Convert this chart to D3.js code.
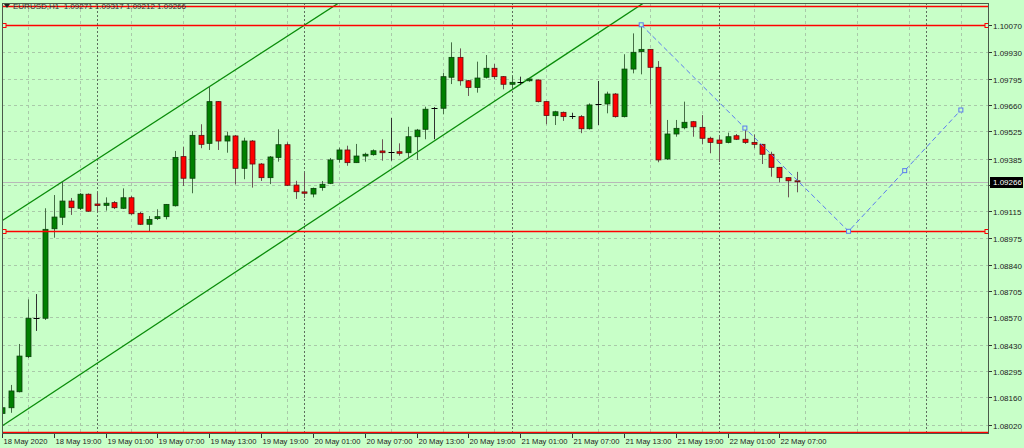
<!DOCTYPE html>
<html><head><meta charset="utf-8">
<script src="https://cdn.jsdelivr.net/npm/d3@7"></script>
<style>html,body{margin:0;padding:0;background:#C8FFC8;}svg{display:block}</style>
</head><body><svg id="c" width="1024" height="448"></svg>
<script>
// ---- data (EURUSD H1, bar 0 = 18 May 2020 13:00) ----
const symbolTitle = "EURUSD,H1  1.09271 1.09317 1.09212 1.09266";
const opens = [1.08078,1.08107,1.08189,1.08369,1.08567,1.08566,1.09025,1.09084,1.09167,1.09130,
1.09202,1.09152,1.09145,1.09159,1.09130,1.09184,1.09104,1.09048,1.09077,1.09087,
1.09143,1.09395,1.09284,1.09504,1.09463,1.09677,1.09475,1.09501,1.09335,1.09475,
1.09357,1.09287,1.09391,1.09456,1.09249,1.09214,1.09203,1.09236,1.09258,1.09381,
1.09429,1.09364,1.09398,1.09405,1.09424,1.09418,1.09420,1.09415,1.09497,1.09535,
1.09642,1.09643,1.09802,1.09904,1.09784,1.09750,1.09802,1.09848,1.09805,1.09766,
1.09779,1.09784,1.09788,1.09677,1.09605,1.09622,1.09602,1.09600,1.09538,1.09665,
1.09665,1.09716,1.09600,1.09844,1.09933,1.09945,1.09853,1.09383,1.09511,1.09543,
1.09574,1.09545,1.09489,1.09480,1.09468,1.09502,1.09484,1.09468,1.09458,1.09407,
1.09340,1.09287,1.09271];
const highs = [1.08162,1.08224,1.08434,1.08663,1.08690,1.09130,1.09198,1.09266,1.09183,1.09208,
1.09206,1.09210,1.09186,1.09167,1.09232,1.09193,1.09111,1.09090,1.09125,1.09152,
1.09424,1.09446,1.09526,1.09561,1.09754,1.09680,1.09523,1.09506,1.09492,1.09480,
1.09362,1.09398,1.09535,1.09468,1.09271,1.09313,1.09236,1.09270,1.09388,1.09441,
1.09451,1.09460,1.09415,1.09432,1.09484,1.09593,1.09463,1.09548,1.09537,1.09651,
1.09649,1.09825,1.09981,1.09950,1.09788,1.09882,1.09916,1.09870,1.09808,1.09808,
1.09805,1.09797,1.09790,1.09680,1.09630,1.09626,1.09620,1.09608,1.09668,1.09783,
1.09728,1.09721,1.09920,1.10027,1.10065,1.09947,1.09885,1.09583,1.09583,1.09677,
1.09578,1.09608,1.09497,1.09506,1.09518,1.09511,1.09535,1.09509,1.09460,1.09420,
1.09342,1.09290,1.09317];
const lows = [1.08018,1.08081,1.08186,1.08362,1.08501,1.08557,1.08979,1.09044,1.09096,1.09121,
1.09111,1.09112,1.09118,1.09126,1.09126,1.09096,1.09044,1.09013,1.09070,1.09073,
1.09139,1.09244,1.09207,1.09438,1.09429,1.09429,1.09415,1.09253,1.09279,1.09236,
1.09270,1.09254,1.09369,1.09244,1.09178,1.09183,1.09186,1.09220,1.09254,1.09364,
1.09348,1.09362,1.09369,1.09400,1.09374,1.09374,1.09400,1.09386,1.09378,1.09484,
1.09484,1.09612,1.09767,1.09759,1.09706,1.09723,1.09796,1.09793,1.09740,1.09740,
1.09762,1.09779,1.09673,1.09561,1.09557,1.09578,1.09588,1.09515,1.09534,1.09557,
1.09617,1.09595,1.09596,1.09822,1.09817,1.09663,1.09366,1.09378,1.09497,1.09535,
1.09497,1.09458,1.09412,1.09367,1.09463,1.09480,1.09460,1.09438,1.09357,1.09292,
1.09263,1.09186,1.09212];
const closes = [1.08107,1.08193,1.08372,1.08566,1.08567,1.09022,1.09085,1.09167,1.09133,1.09202,
1.09115,1.09144,1.09156,1.09133,1.09184,1.09102,1.09048,1.09073,1.09087,1.09150,
1.09391,1.09284,1.09504,1.09458,1.09677,1.09475,1.09501,1.09335,1.09475,1.09357,
1.09287,1.09393,1.09456,1.09248,1.09215,1.09207,1.09232,1.09253,1.09378,1.09429,
1.09364,1.09398,1.09407,1.09425,1.09415,1.09418,1.09412,1.09497,1.09531,1.09638,
1.09642,1.09805,1.09904,1.09784,1.09750,1.09798,1.09848,1.09805,1.09766,1.09776,
1.09779,1.09793,1.09677,1.09606,1.09625,1.09600,1.09602,1.09538,1.09660,1.09665,
1.09716,1.09600,1.09844,1.09930,1.09945,1.09853,1.09378,1.09511,1.09540,1.09571,
1.09548,1.09489,1.09468,1.09463,1.09497,1.09484,1.09468,1.09458,1.09407,1.09340,
1.09287,1.09271,1.09266];
// tick prices; the 1.09250 label is hidden under the last-price tag in the original
const priceTicks = ["1.10070","1.09930","1.09795","1.09660","1.09525","1.09385","1.09250","1.09115",
"1.08975","1.08840","1.08705","1.08570","1.08430","1.08295","1.08160","1.08020"];
const hiddenTickLabels = ["1.09250"];
const timeLabels = ["18 May 2020","18 May 19:00","19 May 01:00","19 May 07:00","19 May 13:00","19 May 19:00",
"20 May 01:00","20 May 07:00","20 May 13:00","20 May 19:00","21 May 01:00","21 May 07:00",
"21 May 13:00","21 May 19:00","22 May 01:00","22 May 07:00"];
const timeLabelBars = [0,6,12,18,24,30,36,42,48,54,60,66,72,78,84,90];
const daySeparatorBars = [11,35,59,83,107];
const hLinePrices = [1.10167,1.10071,1.09012,1.07985];
const hLineMarked = [false,true,true,false];
const channelUpper = [[0,1.09066],[40,1.10212]];   // [bar, price]
const channelLower = [[0,1.08013],[80,1.10350]];
const zigzag = [[74,1.10071],[98,1.09012],[111,1.09634]];
const lastPrice = 1.09266;

// ---- layout ----
const W=1024,H=448, L=2, R=989, T=3, B=434;
const svg=d3.select("#c");
const x=d3.scaleLinear().domain([0,107]).range([1.9,926.3]);
const y=d3.scaleLinear().domain([1.08020,1.10070]).range([424.7,25]);
const bg="#C8FFC8";
svg.append("rect").attr("width",W).attr("height",H).attr("fill",bg);
svg.append("defs").append("clipPath").attr("id","plot").append("rect")
  .attr("x",L).attr("y",T).attr("width",R-L).attr("height",B-T);
const plot=svg.append("g").attr("clip-path","url(#plot)");

// grid
const gridCol="#A9C9A9";
priceTicks.forEach(t=>{
  const yy=Math.round(y(+t))+0.5;
  plot.append("line").attr("x1",L).attr("x2",R).attr("y1",yy).attr("y2",yy)
    .attr("stroke",gridCol).attr("stroke-dasharray","3,3");
});
for(let b=3;b<=115;b+=6){
  const xx=Math.round(x(b))+0.5;
  plot.append("line").attr("x1",xx).attr("x2",xx).attr("y1",T).attr("y2",B)
    .attr("stroke",gridCol).attr("stroke-dasharray","3,3");
}
daySeparatorBars.forEach(b=>{
  const xx=Math.round(x(b))+0.5;
  plot.append("line").attr("x1",xx).attr("x2",xx).attr("y1",T).attr("y2",B)
    .attr("stroke","#5E6E5E").attr("stroke-dasharray","2,2");
});

// bid line
plot.append("line").attr("x1",L).attr("x2",R).attr("y1",Math.round(y(lastPrice))+0.5).attr("y2",Math.round(y(lastPrice))+0.5)
  .attr("stroke","#B8B8B8");

// channel lines
function rayLine(pts){
  const [a,b]=pts;
  const slope=(b[1]-a[1])/(b[0]-a[0]);
  const p=bar=>a[1]+slope*(bar-a[0]);
  plot.append("line").attr("x1",x(-2)).attr("y1",y(p(-2))).attr("x2",x(140)).attr("y2",y(p(140)))
    .attr("stroke","#0A8C0A").attr("stroke-width",1.3);
}
rayLine(channelUpper); rayLine(channelLower);

// candles
const n=closes.length;
const bw=5;
for(let i=0;i<n;i++){
  const cx=Math.round(x(i))+0.5;
  const o=opens[i],c=closes[i],h=highs[i],l=lows[i];
  const up=c>o, dn=c<o;
  plot.append("line").attr("x1",cx).attr("x2",cx).attr("y1",y(h)).attr("y2",y(l))
    .attr("stroke", up?"#466E46":(dn?"#6A5555":"#303030")).attr("stroke-width",1);
  if(!up && !dn){
    const yy=Math.round(y(o))+0.5;
    plot.append("line").attr("x1",cx-3).attr("x2",cx+3).attr("y1",yy).attr("y2",yy).attr("stroke","#000").attr("stroke-width",1);
  } else {
    const top=y(Math.max(o,c)), bot=y(Math.min(o,c));
    plot.append("rect").attr("x",cx-2.5).attr("y",top).attr("width",bw).attr("height",Math.max(1,bot-top))
      .attr("fill",up?"#008000":"#FF0000").attr("stroke",up?"#0B3F0B":"#5A1010").attr("stroke-width",0.8);
  }
}

// horizontal red lines (drawn above the candles)
hLinePrices.forEach((p,k)=>{
  const yy=Math.round(y(p))+0.5;
  plot.append("line").attr("x1",L).attr("x2",R).attr("y1",yy).attr("y2",yy).attr("stroke","#FF0000").attr("stroke-width",1.4);
  if(hLineMarked[k]){
    [L+2,R-2].forEach(xx=>plot.append("rect").attr("x",xx-2).attr("y",yy-2).attr("width",4).attr("height",4)
      .attr("fill",bg).attr("stroke","#FF0000"));
  }
});

// zigzag
const zz=plot.append("g");
zz.append("path").attr("d",d3.line().x(d=>x(d[0])).y(d=>y(d[1]))(zigzag))
  .attr("fill","none").attr("stroke","#5A7AF0").attr("stroke-dasharray","5,3").attr("stroke-width",1);
const markers=[];
for(let k=0;k<zigzag.length;k++){
  markers.push(zigzag[k]);
  if(k<zigzag.length-1) markers.push([(zigzag[k][0]+zigzag[k+1][0])/2,(zigzag[k][1]+zigzag[k+1][1])/2]);
}
markers.forEach(m=>zz.append("rect").attr("x",x(m[0])-2).attr("y",y(m[1])-2).attr("width",4).attr("height",4)
  .attr("fill",bg).attr("stroke","#5A7AF0"));

// frame
svg.append("rect").attr("x",L+0.5).attr("y",T+0.5).attr("width",R-L-1).attr("height",B-T-1)
  .attr("fill","none").attr("stroke","#4A5A4A");

// price axis
const font="'Liberation Sans', Arial, sans-serif";
priceTicks.forEach(t=>{
  const yy=Math.round(y(+t))+0.5;
  svg.append("line").attr("x1",R).attr("x2",R+3).attr("y1",yy).attr("y2",yy).attr("stroke","#333");
  if(!hiddenTickLabels.includes(t))
    svg.append("text").attr("x",R+4).attr("y",yy+3).attr("font-family",font).attr("font-size",8)
      .attr("fill","#222").text(t);
});
// last price tag
const ly=y(lastPrice);
svg.append("rect").attr("x",R+1).attr("y",Math.round(ly)-5).attr("width",33).attr("height",11).attr("fill","#000");
svg.append("text").attr("x",R+4).attr("y",Math.round(ly)+3).attr("font-family",font).attr("font-size",8)
  .attr("fill","#fff").text(lastPrice.toFixed(5));

// time axis
timeLabels.forEach((t,k)=>{
  const xx=Math.round(x(timeLabelBars[k]))+0.5;
  svg.append("line").attr("x1",xx).attr("x2",xx).attr("y1",B).attr("y2",B+4).attr("stroke","#333");
  svg.append("text").attr("x",xx+1).attr("y",444).attr("font-family",font).attr("font-size",7.6)
    .attr("fill","#222").text(t);
});

// title
svg.append("path").attr("d","M4,4 L10,4 L7,8 Z").attr("fill","#222");
svg.append("text").attr("x",13).attr("y",9).attr("font-family",font).attr("font-size",8)
  .attr("fill","#333").style("white-space","pre").text(symbolTitle);
</script>
</body></html>
